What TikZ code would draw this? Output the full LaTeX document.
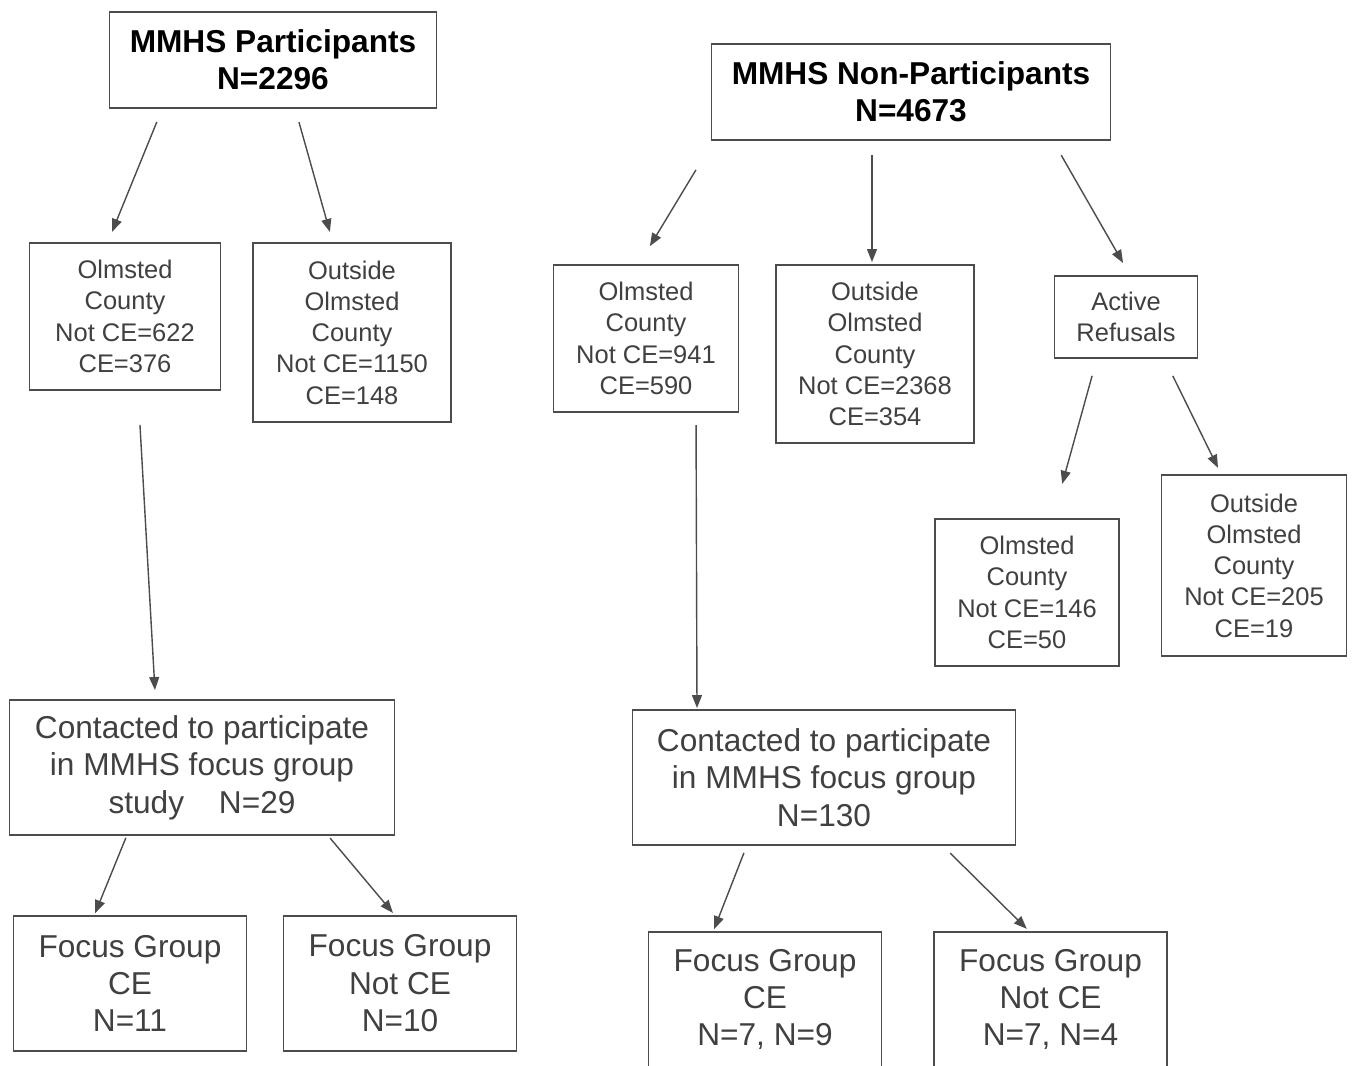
\documentclass[tikz,border=0pt]{standalone}
\usepackage{fontspec}
\setmainfont{Liberation Sans}
\usetikzlibrary{arrows.meta, positioning}

\begin{document}
\begin{tikzpicture}[
        box/.style={rectangle, draw=black!70, line width=0.8pt, inner sep=0pt, outer sep=0pt, align=center, text=black!75},
        smallbox/.style={box, font=\fontsize{14.5}{17.8}\selectfont},
        bigbox/.style={box, font=\fontsize{18}{21.3}\selectfont},
        titlebox/.style={box, text=black, font=\fontsize{18}{21}\selectfont\bfseries},
        arrow/.style={line width=0.8pt, draw=black!70, -{Triangle[length=0.26cm, width=0.2cm]}}
    ]
    \useasboundingbox (0,0) rectangle (27.08,-21.30);

    % --- NODES ---
    \node (part) [titlebox, minimum width=6.54cm, minimum height=1.92cm] at (5.46,-1.20) {MMHS Participants\\N=2296};
    \node (nonpart) [titlebox, minimum width=7.98cm, minimum height=1.92cm] at (18.22,-1.84) {MMHS Non-Participants\\N=4673};

    % Participants branch
    \node (olmA) [smallbox, minimum width=3.82cm, minimum height=2.94cm, below=2.70cm of part, xshift=-2.96cm] {Olmsted\\County\\Not CE=622\\CE=376};
    \node (outA) [smallbox, minimum width=3.96cm, minimum height=3.58cm, below=2.70cm of part, xshift=1.58cm] {Outside\\Olmsted\\County\\Not CE=1150\\CE=148};
    \node (contA) [bigbox, minimum width=7.70cm, minimum height=2.70cm, below=6.20cm of olmA, xshift=1.54cm] {Contacted to participate\\in MMHS focus group\\study\hspace{1.1em}N=29};
    \node (fgA1) [bigbox, minimum width=4.66cm, minimum height=2.70cm, below=1.62cm of contA, xshift=-1.44cm] {Focus Group\\CE\\N=11};
    \node (fgA2) [bigbox, minimum width=4.66cm, minimum height=2.70cm, below=1.62cm of contA, xshift=3.96cm] {Focus Group\\Not CE\\N=10};

    % Non-Participants branch
    \node (olmB) [smallbox, minimum width=3.70cm, minimum height=2.94cm, below=2.50cm of nonpart, xshift=-5.30cm] {Olmsted\\County\\Not CE=941\\CE=590};
    \node (outB) [smallbox, minimum width=3.96cm, minimum height=3.56cm, below=2.50cm of nonpart, xshift=-0.72cm] {Outside\\Olmsted\\County\\Not CE=2368\\CE=354};
    \node (refuse) [smallbox, minimum width=2.86cm, minimum height=1.64cm, below=2.72cm of nonpart, xshift=4.30cm] {Active\\Refusals};
    \node (olmC) [smallbox, minimum width=3.68cm, minimum height=2.94cm, below=3.22cm of refuse, xshift=-1.98cm] {Olmsted\\County\\Not CE=146\\CE=50};
    \node (outC) [smallbox, minimum width=3.70cm, minimum height=3.62cm, below=2.34cm of refuse, xshift=2.56cm] {Outside\\Olmsted\\County\\Not CE=205\\CE=19};
    \node (contB) [bigbox, minimum width=7.66cm, minimum height=2.70cm, below=5.96cm of olmB, xshift=3.56cm] {Contacted to participate\\in MMHS focus group\\N=130};
    \node (fgB1) [bigbox, minimum width=4.66cm, minimum height=2.70cm, below=1.74cm of contB, xshift=-1.18cm] {Focus Group\\CE\\N=7, N=9};
    \node (fgB2) [bigbox, minimum width=4.66cm, minimum height=2.70cm, below=1.74cm of contB, xshift=4.53cm] {Focus Group\\Not CE\\N=7, N=4};

    % --- ARROWS ---
    \draw [arrow, shorten <=0.30cm, shorten >=0.24cm] ([xshift=-2.21cm]part.south) -- ([xshift=-0.35cm]olmA.north);
    \draw [arrow, shorten <=0.29cm, shorten >=0.23cm] ([xshift=0.44cm]part.south) -- ([xshift=-0.38cm]outA.north);
    \draw [arrow, shorten <=0.70cm, shorten >=0.20cm] ([xshift=0.26cm]olmA.south) -- ([xshift=-0.93cm]contA.north);
    \draw [arrow, shorten <=0.06cm, shorten >=0.06cm] ([xshift=-1.50cm]contA.south) -- ([xshift=-0.72cm]fgA1.north);
    \draw [arrow, shorten <=0.08cm, shorten >=0.08cm] ([xshift=2.51cm]contA.south) -- ([xshift=-0.09cm]fgA2.north);

    \draw [arrow, shorten <=0.70cm, shorten >=0.44cm] ([xshift=-3.94cm]nonpart.south) -- ([xshift=-0.15cm]olmB.north);
    \draw [arrow, shorten <=0.30cm, shorten >=0.06cm] ([xshift=-0.78cm]nonpart.south) -- ([xshift=-0.06cm]outB.north);
    \draw [arrow, shorten <=0.35cm, shorten >=0.30cm] ([xshift=2.83cm]nonpart.south) -- ([xshift=0.09cm]refuse.north);
    \draw [arrow, shorten <=0.37cm, shorten >=0.73cm] ([xshift=-0.58cm]refuse.south) -- ([xshift=0.51cm]olmC.north);
    \draw [arrow, shorten <=0.40cm, shorten >=0.16cm] ([xshift=0.76cm]refuse.south) -- ([xshift=-0.65cm]outC.north);
    \draw [arrow, shorten <=0.26cm, shorten >=0.04cm] ([xshift=1.00cm]olmB.south) -- ([xshift=-2.54cm]contB.north);
    \draw [arrow, shorten <=0.17cm, shorten >=0.06cm] ([xshift=-1.54cm]contB.south) -- ([xshift=-1.04cm]fgB1.north);
    \draw [arrow, shorten <=0.23cm, shorten >=0.09cm] ([xshift=2.36cm]contB.south) -- ([xshift=-0.41cm]fgB2.north);

\end{tikzpicture}
\end{document}
